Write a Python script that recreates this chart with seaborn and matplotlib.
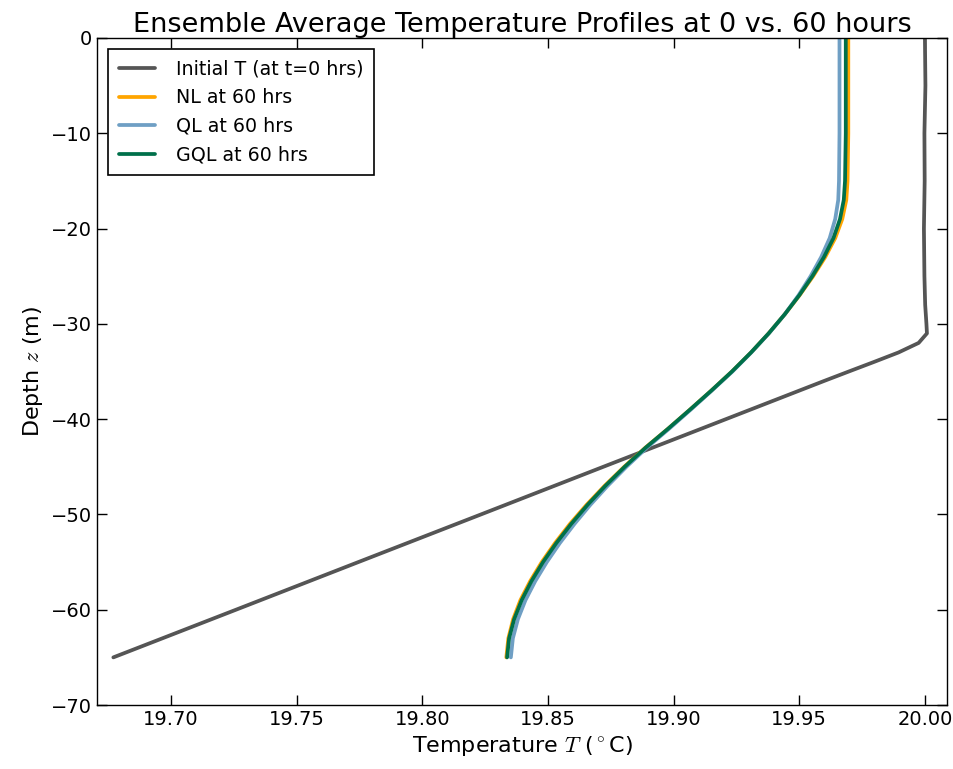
import matplotlib
matplotlib.use("Agg")
import matplotlib.pyplot as plt
import matplotlib.ticker as ticker
import seaborn as sns
import pandas as pd

# depth grid (m) shared by the three 60-hour profiles
z_60 = [0, -5, -10, -15, -17, -19, -21, -23, -25, -27, -29, -31, -33, -35, -37,
        -39, -41, -43, -45, -47, -49, -51, -53, -55, -57, -59, -61, -63, -65]

T_nl = [19.9695, 19.9695, 19.9695, 19.9692, 19.9687, 19.9671, 19.9643, 19.9603,
        19.9555, 19.9501, 19.9442, 19.9378, 19.9308, 19.9232, 19.9150, 19.9065,
        19.8978, 19.8887, 19.8803, 19.8725, 19.8653, 19.8587, 19.8528, 19.8475,
        19.8429, 19.8390, 19.8361, 19.8342, 19.8334]

T_ql = [19.9660, 19.9660, 19.9660, 19.9658, 19.9655, 19.9643, 19.9621, 19.9587,
        19.9545, 19.9497, 19.9442, 19.9379, 19.9309, 19.9234, 19.9152, 19.9068,
        19.8982, 19.8893, 19.8812, 19.8737, 19.8668, 19.8605, 19.8547, 19.8495,
        19.8449, 19.8410, 19.8380, 19.8360, 19.8352]

T_gql = [19.9685, 19.9685, 19.9685, 19.9682, 19.9677, 19.9662, 19.9636, 19.9598,
         19.9552, 19.9500, 19.9442, 19.9378, 19.9308, 19.9232, 19.9150, 19.9065,
         19.8978, 19.8888, 19.8805, 19.8728, 19.8657, 19.8592, 19.8533, 19.8480,
         19.8434, 19.8395, 19.8365, 19.8345, 19.8337]

# initial profile
z_init = [0, -5, -10, -15, -20, -25, -28, -30, -31, -32, -33, -34, -35, -36,
          -40, -45, -50, -55, -60, -65]
T_init = [20.0000, 20.0002, 19.9998, 19.9999, 19.9996, 19.9998, 20.0001, 20.0006,
          20.0008, 19.9975, 19.9895, 19.9797, 19.9697, 19.9598, 19.9208, 19.8720,
          19.8233, 19.7745, 19.7258, 19.6770]

labels = ['Initial T (at t=0 hrs)', 'NL at 60 hrs', 'QL at 60 hrs', 'GQL at 60 hrs']
colors = ['#555555', '#ffa500', '#6f9fc4', '#00704a']

frames = [pd.DataFrame({'T': T_init, 'z': z_init, 'run': labels[0]})]
for lab, vals in zip(labels[1:], [T_nl, T_ql, T_gql]):
    frames.append(pd.DataFrame({'T': vals, 'z': z_60, 'run': lab}))
df = pd.concat(frames, ignore_index=True)

sns.set_style("ticks", {
    'axes.edgecolor': 'black',
    'axes.labelcolor': 'black',
    'text.color': 'black',
    'xtick.color': 'black',
    'ytick.color': 'black',
    'xtick.direction': 'in',
    'ytick.direction': 'in',
    'xtick.top': True,
    'ytick.right': True,
})
plt.rcParams['font.family'] = ['DejaVu Sans']
plt.rcParams['mathtext.fontset'] = 'cm'
plt.rcParams['xtick.major.size'] = 7
plt.rcParams['ytick.major.size'] = 7

fig = plt.figure(figsize=(9.54, 7.69), dpi=100)
ax = fig.add_axes([0.1017, 0.0832, 0.8910, 0.8674])

sns.lineplot(data=df, x='T', y='z', hue='run', hue_order=labels,
             palette=dict(zip(labels, colors)), sort=False, estimator=None,
             linewidth=2.7, ax=ax)

ax.set_xlim(19.6705, 20.0088)
ax.set_ylim(-70, 0)
ax.xaxis.set_major_locator(ticker.MultipleLocator(0.05))
ax.xaxis.set_major_formatter(ticker.FormatStrFormatter('%.2f'))
ax.yaxis.set_major_locator(ticker.MultipleLocator(10))
ax.tick_params(labelsize=14, width=1)
for s in ax.spines.values():
    s.set_linewidth(1)

ax.set_title('Ensemble Average Temperature Profiles at 0 vs. 60 hours', fontsize=19.5, pad=4)
ax.set_xlabel(r'Temperature $T$ ($^\circ$C)', fontsize=16)
ax.set_ylabel(r'Depth $z$ (m)', fontsize=16)

leg = ax.legend(loc='upper left', fontsize=13.7, fancybox=False, framealpha=1,
                edgecolor='black', borderaxespad=0.6, borderpad=0.55,
                handlelength=1.9, handletextpad=1.1, labelspacing=0.5)
leg.get_frame().set_linewidth(1.2)

fig.savefig('out.png', dpi=100)
